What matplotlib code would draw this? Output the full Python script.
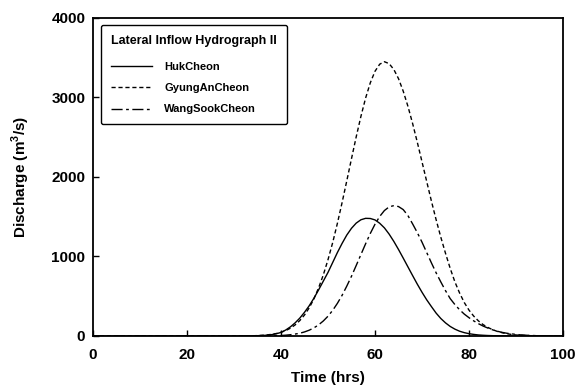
import matplotlib
matplotlib.use("Agg")
import matplotlib.pyplot as plt

plt.rcParams["font.family"] = ["Liberation Sans", "DejaVu Sans"]
plt.rcParams["mathtext.fontset"] = "custom"
plt.rcParams["mathtext.bf"] = "Liberation Sans:bold"
plt.rcParams["mathtext.rm"] = "Liberation Sans"

# ── Data ──────────────────────────────────────────────────────────────────────
time = [0] + list(range(30, 101))

huk = [0,
       0, 0, 0, 1, 2, 4, 6, 10, 17, 28,
       45, 75, 115, 165, 225, 298, 380, 475, 580, 690,
       800, 925, 1050, 1165, 1270, 1355, 1420, 1462, 1480, 1478,
       1460, 1418, 1360, 1282, 1190, 1088, 980, 870, 760, 652,
       550, 455, 370, 288, 220, 165, 120, 86, 60, 42,
       29, 20, 13, 9, 6, 4, 3, 2, 1, 1,
       0, 0, 0, 0, 0, 0, 0, 0, 0, 0, 0]

gyung = [0,
         0, 1, 1, 2, 3, 5, 9, 13, 21, 31,
         47, 68, 98, 139, 194, 264, 354, 467, 605, 768,
         960, 1176, 1418, 1679, 1953, 2231, 2505, 2762, 2993, 3185,
         3330, 3419, 3450, 3426, 3353, 3237, 3080, 2890, 2673, 2437,
         2191, 1943, 1697, 1463, 1243, 1040, 850, 680, 540, 420,
         325, 250, 190, 143, 108, 80, 58, 42, 29, 20,
         13, 9, 6, 4, 3, 2, 1, 1, 0, 0, 0]

wang = [0,
        0, 0, 0, 0, 0, 0, 1, 1, 2, 4,
        6, 10, 16, 24, 35, 51, 73, 102, 140, 189,
        249, 323, 411, 512, 628, 752, 887, 1024, 1160, 1290,
        1406, 1504, 1578, 1624, 1640, 1628, 1590, 1515, 1410, 1300,
        1180, 1050, 920, 795, 680, 570, 470, 395, 330, 275,
        230, 190, 155, 125, 100, 78, 60, 46, 35, 27,
        20, 14, 10, 7, 5, 3, 2, 1, 1, 0, 0]

labels = ["HukCheon", "GyungAnCheon", "WangSookCheon"]
xticks = [0, 20, 40, 60, 80, 100]
yticks = [0, 1000, 2000, 3000, 4000]

# ── Figure ────────────────────────────────────────────────────────────────────
fig = plt.figure(figsize=(5.79, 3.87), dpi=100)
ax = fig.add_axes([0.1606, 0.1318, 0.8118, 0.8217])

ax.plot(time, huk, color="black", lw=1.0, ls="-", label=labels[0])
ax.plot(time, gyung, color="black", lw=1.0, ls=(0, (3, 2)), label=labels[1])
ax.plot(time, wang, color="black", lw=1.0, ls=(0, (8, 2.5, 2, 2.5)), label=labels[2])

ax.set_xlim(0, 100)
ax.set_ylim(0, 4000)
ax.set_xticks(xticks)
ax.set_yticks(yticks)
ax.tick_params(direction="in", length=4, width=1, labelsize=11)
ax.tick_params(axis="x", pad=9)
ax.tick_params(axis="y", pad=5.5)
for lab in ax.get_xticklabels() + ax.get_yticklabels():
    lab.set_fontweight("bold")
for sp in ax.spines.values():
    sp.set_linewidth(1.3)

ax.set_xlabel("Time (hrs)", fontsize=11, fontweight="bold", labelpad=6)
ax.set_ylabel(r"Discharge (m$^\mathbf{3}$/s)", fontsize=11, fontweight="bold", labelpad=14)

leg = ax.legend(loc="upper left", bbox_to_anchor=(0.017, 0.978),
                borderaxespad=0, title="Lateral Inflow Hydrograph II",
                fancybox=True, edgecolor="black", framealpha=1,
                handlelength=3.7, handletextpad=1.1, labelspacing=1.0,
                borderpad=0.9,
                prop={"size": 8, "weight": "bold"},
                title_fontproperties={"size": 9, "weight": "bold"})
leg._legend_box.align = "left"
leg._legend_box.sep = 11  # a bit more room under the title
leg.get_frame().set_linewidth(1.0)

fig.savefig("out.png", dpi=100)
